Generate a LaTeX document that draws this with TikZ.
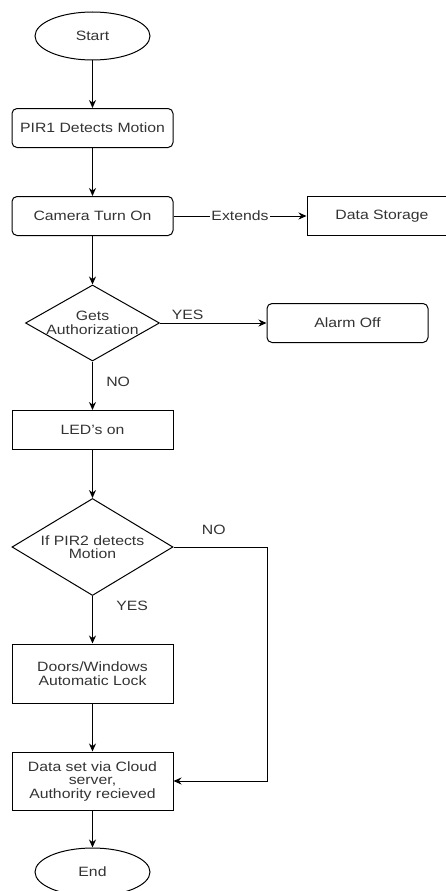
\documentclass[tikz,border=0pt]{standalone}
\usepackage{fontspec}
\setmainfont{Liberation Sans}[FakeStretch=1.17]
\usetikzlibrary{shapes.geometric,arrows.meta}
\definecolor{txtgray}{HTML}{333333}

\begin{document}
\begin{tikzpicture}[x=1pt,y=-1pt,line width=1pt,
  every node/.style={font=\fontsize{13.5}{13.5}\selectfont,text=txtgray},
  term/.style={ellipse,draw,minimum width=115pt,minimum height=48pt,inner sep=0pt},
  proc/.style={rectangle,draw,minimum width=161pt,minimum height=39pt,inner sep=0pt,align=center},
  rproc/.style={proc,rounded corners=5pt},
  decide/.style={diamond,draw,inner sep=0pt,align=center},
  arr/.style={-{Stealth[length=8pt,width=7pt]}}]
\useasboundingbox (0,0) rectangle (445,891);

%main column
\node[term] (start) at (92.5,36) {Start};
\node[rproc] (pir1) at (92.5,128) {PIR1 Detects Motion};
\node[rproc] (cam) at (92.5,216) {Camera Turn On};
\node[decide,minimum width=134pt,minimum height=76pt,aspect=1.76] (auth) at (92.5,323) {Gets\\Authorization};
\node[proc] (led) at (92.5,430) {LED's on};
\node[decide,minimum width=161pt,minimum height=97pt,aspect=1.66] (pir2) at (92.5,547) {If PIR2 detects\\Motion};
\node[proc,minimum height=59pt] (doors) at (92.5,673.5) {Doors/Windows\\Automatic Lock};
\node[proc,minimum height=58pt] (cloud) at (92.5,781) {Data set via Cloud\\server,\\Authority recieved};
\node[term] (finish) at (92.5,872) {End};

%side nodes
\node[proc,minimum width=150pt] (store) at (382,216) {Data Storage};
\node[rproc] (alarm) at (347.5,323) {Alarm Off};
\coordinate (noturn) at (267,547);

\draw[arr] (start) -- (pir1);
\draw[arr] (pir1) -- (cam);
\draw[arr] (cam) -- node[fill=white,inner sep=1pt] {Extends} (store);
\draw[arr] (cam) -- (auth);
\draw[arr] (auth) -- node[pos=0.26,above] {YES} (alarm);
\draw[arr] (auth) -- node[pos=0.42,right=10pt] {NO} (led);
\draw[arr] (led) -- (pir2);
\draw[arr] (pir2) -- node[pos=0.2,right=20pt] {YES} (doors);
\draw[arr] (pir2) -- node[pos=0.43,above=9pt] {NO} (noturn) |- (cloud);
\draw[arr] (doors) -- (cloud);
\draw[arr] (cloud) -- (finish);

\end{tikzpicture}
\end{document}
